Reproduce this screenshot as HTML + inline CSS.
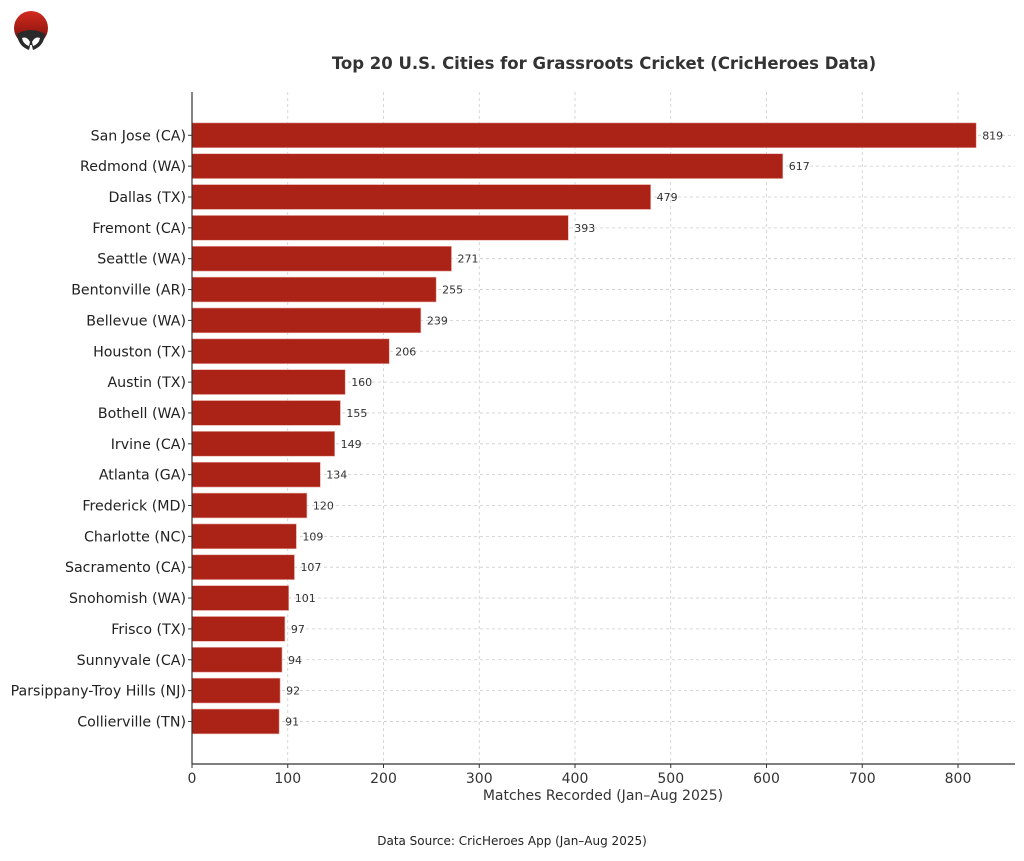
<!DOCTYPE html>
<html><head><meta charset="utf-8"><style>
body{margin:0;background:#fff;}
svg text{font-family:"DejaVu Sans","Liberation Sans",sans-serif;}
</style></head><body>
<svg id="c" width="1024" height="856" xmlns="http://www.w3.org/2000/svg">
<defs><linearGradient id="g" x1="0" y1="0" x2="0" y2="1"><stop offset="0" stop-color="#d42a1e"/><stop offset="0.6" stop-color="#9a1a12"/><stop offset="1" stop-color="#222"/></linearGradient></defs>
<circle cx="31" cy="28" r="17" fill="url(#g)"/>
<path d="M17 34 Q31 26 45 34 Q44 46 33 50 L31 42 L29 50 Q18 46 17 34Z" fill="#2a2a2a"/>
<path d="M22 38 Q27 36 30 42 L29 46 Q23 44 22 38Z M40 38 Q35 36 32 42 L33 46 Q39 44 40 38Z" fill="#fff"/>
<text x="604" y="69" text-anchor="middle" font-size="16.5" font-weight="bold" fill="#333">Top 20 U.S. Cities for Grassroots Cricket (CricHeroes Data)</text>
<g id="plot"></g>
<text x="603" y="800" text-anchor="middle" font-size="14" fill="#333">Matches Recorded (Jan–Aug 2025)</text>
<text x="512" y="845" text-anchor="middle" font-size="12" fill="#222">Data Source: CricHeroes App (Jan–Aug 2025)</text>
</svg>
<script>
var d=[["San Jose (CA)",819],["Redmond (WA)",617],["Dallas (TX)",479],["Fremont (CA)",393],["Seattle (WA)",271],["Bentonville (AR)",255],["Bellevue (WA)",239],["Houston (TX)",206],["Austin (TX)",160],["Bothell (WA)",155],["Irvine (CA)",149],["Atlanta (GA)",134],["Frederick (MD)",120],["Charlotte (NC)",109],["Sacramento (CA)",107],["Snohomish (WA)",101],["Frisco (TX)",97],["Sunnyvale (CA)",94],["Parsippany-Troy Hills (NJ)",92],["Collierville (TN)",91]];
var x0=192,k=0.9575,pt=92,bot=764,right=1015,s="";
for(var t=0;t<=800;t+=100){var x=x0+t*k;
 if(t>0)s+='<line x1="'+x+'" y1="'+pt+'" x2="'+x+'" y2="'+bot+'" stroke="#ccc" stroke-dasharray="3,3" stroke-width="0.8"/>';
 s+='<line x1="'+x+'" y1="'+bot+'" x2="'+x+'" y2="'+(bot+4)+'" stroke="#333"/>';
 s+='<text x="'+x+'" y="'+(bot+19)+'" text-anchor="middle" font-size="14" fill="#333">'+t+'</text>';}
for(var i=0;i<20;i++){var y=135.3+i*30.85;
 s+='<line x1="'+x0+'" y1="'+y+'" x2="'+right+'" y2="'+y+'" stroke="#ccc" stroke-dasharray="3,3" stroke-width="0.8"/>';}
for(var i=0;i<20;i++){var y=135.3+i*30.85,w=d[i][1]*k;
 s+='<rect x="'+x0+'" y="'+(y-12.4)+'" width="'+w+'" height="24.8" fill="#ab2217" stroke="#e8a8a0" stroke-width="0.6"/>';
 s+='<line x1="'+(x0-4)+'" y1="'+y+'" x2="'+x0+'" y2="'+y+'" stroke="#333"/>';
 s+='<text x="'+(x0-6)+'" y="'+(y+5)+'" text-anchor="end" font-size="14.2" fill="#222">'+d[i][0]+'</text>';
 s+='<text x="'+(x0+w+6)+'" y="'+(y+4)+'" font-size="11" fill="#333">'+d[i][1]+'</text>';}
s+='<line x1="'+x0+'" y1="'+pt+'" x2="'+x0+'" y2="'+bot+'" stroke="#333" stroke-width="1.2"/>';
s+='<line x1="'+x0+'" y1="'+bot+'" x2="'+right+'" y2="'+bot+'" stroke="#333" stroke-width="1.2"/>';
document.getElementById("plot").innerHTML=s;
</script>
</body></html>
